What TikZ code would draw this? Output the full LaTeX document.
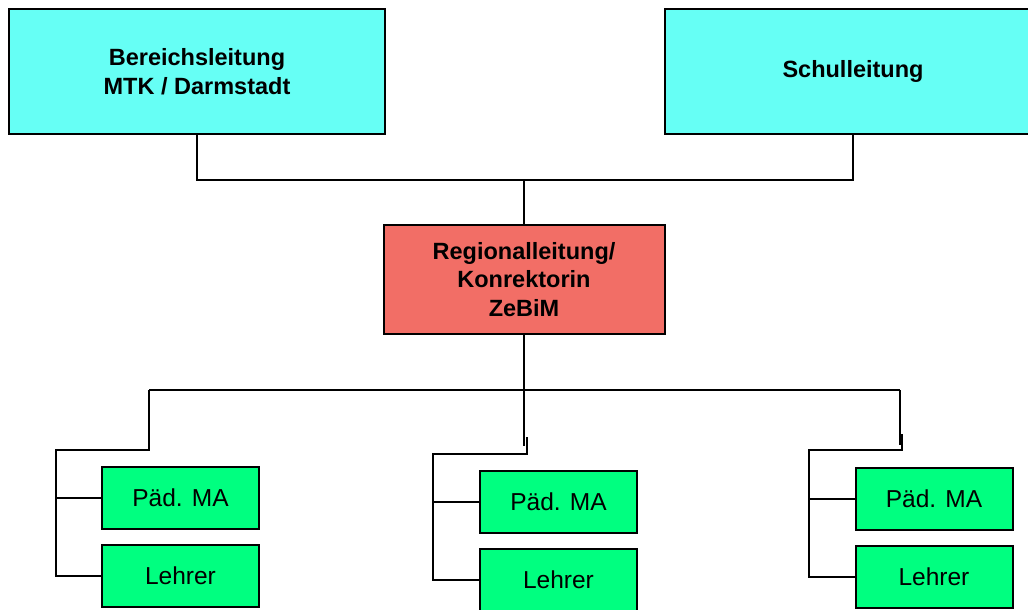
\documentclass[tikz,border=0pt]{standalone}
\usepackage{fontspec}
\setmainfont{Liberation Sans}
\usetikzlibrary{positioning}
\definecolor{leitcyan}{RGB}{102,255,245}
\definecolor{regrot}{RGB}{242,110,102}
\definecolor{teamgruen}{RGB}{0,255,128}
\tikzstyle{leitung}=[rectangle,draw=black,line width=2pt,fill=leitcyan,minimum width=376pt,minimum height=125pt,inner sep=0pt,align=center,font=\bfseries\fontsize{23.5}{28.5}\selectfont]
\tikzstyle{region}=[leitung,fill=regrot,minimum width=281pt,minimum height=109pt]
\tikzstyle{team}=[rectangle,draw=black,line width=2pt,fill=teamgruen,minimum width=157pt,minimum height=62pt,inner sep=0pt,font=\fontsize{24.5}{28}\selectfont]
\tikzstyle{linie}=[line width=1.8pt,black]

\begin{document}
\begin{tikzpicture}[x=1pt,y=-1pt]
\useasboundingbox (0,0) rectangle (1028,610);

\node[leitung] (BL) at (197,71.5) {Bereichsleitung\\MTK / Darmstadt};
\node[leitung] (SL) at (853,71.5) {Schulleitung};
\node[region] (RL) at (524,279.5) {Regionalleitung/\\Konrektorin\\ZeBiM};

\node[team] (PA1) at (180.5,498) {Päd. MA};
\node[team] (LE1) [below=14pt of PA1] {Lehrer};
\node[team] (PA2) at (558.5,502) {Päd. MA};
\node[team] (LE2) [below=14pt of PA2] {Lehrer};
\node[team] (PA3) at (934,499) {Päd. MA};
\node[team] (LE3) [below=14pt of PA3] {Lehrer};

% oben
\coordinate (oben) at (524,180);
\draw[linie] (BL.south) |- (oben) -| (SL.south);
\draw[linie] (oben) -- (RL.north);

% unten
\coordinate (ul) at (149,390);
\coordinate (ur) at (900,390);
\coordinate (k1) at (56,450);
\coordinate (s2) at (527,437);
\coordinate (k2) at (433,454);
\coordinate (s3) at (902,434);
\coordinate (k3) at (809,450);
\draw[linie] (RL.south) -- ++(0,111);
\draw[linie] (ul) -- (ur);

\draw[linie] (ul) |- (k1) |- (LE1.west);
\draw[linie] (k1 |- PA1.west) -- (PA1.west);

\draw[linie] (s2) |- (k2) |- (LE2.west);
\draw[linie] (k2 |- PA2.west) -- (PA2.west);

\draw[linie] (ur) -- ++(0,55);
\draw[linie] (s3) |- (k3) |- (LE3.west);
\draw[linie] (k3 |- PA3.west) -- (PA3.west);

\end{tikzpicture}
\end{document}
